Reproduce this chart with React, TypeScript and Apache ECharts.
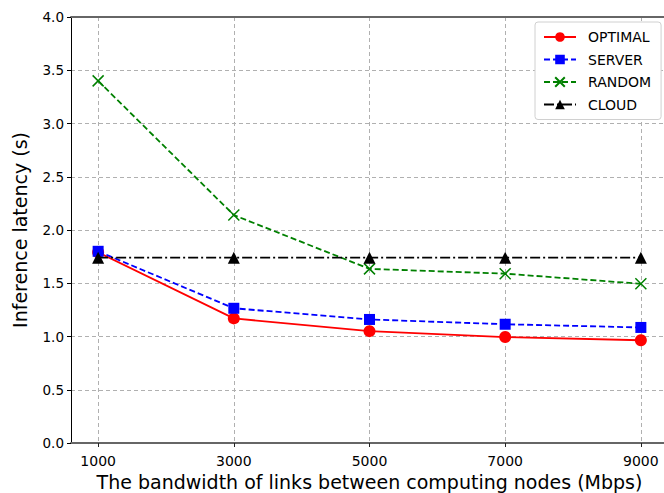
import React, { useEffect, useRef } from "react";
import * as echarts from "echarts";

const bandwidths = [1000, 3000, 5000, 7000, 9000];
const optimal = [1.79, 1.17, 1.05, 0.995, 0.965];
const server = [1.8, 1.265, 1.16, 1.115, 1.085];
const random = [3.4, 2.14, 1.635, 1.59, 1.495];
const cloud = [1.74, 1.74, 1.74, 1.74, 1.74];
const xTicks = [1000, 3000, 5000, 7000, 9000];

const FONT = "DejaVu Sans";

function pts(vals: number[]) {
  return bandwidths.map((b, i) => [b, vals[i]]);
}

export default function App() {
  const ref = useRef<HTMLDivElement>(null);
  useEffect(() => {
    if (!ref.current) return;
    const chart = echarts.init(ref.current, undefined, { renderer: "svg" });
    const gridLine = { show: true, lineStyle: { color: "#b0b0b0", type: [4, 3] as any, width: 1 } };
    chart.setOption({
      animation: false,
      backgroundColor: "#ffffff",
      grid: { left: 71, top: 17, width: 597, bottom: 50, containLabel: false, outerBoundsMode: "none" },
      legend: {
        orient: "vertical",
        left: 535,
        top: 22,
        itemWidth: 32,
        itemHeight: 12,
        itemGap: 8.5,
        padding: [8, 10, 8, 8],
        backgroundColor: "#ffffff",
        borderColor: "#d0d0d0",
        borderWidth: 1,
        borderRadius: 3,
        textStyle: { fontFamily: FONT, fontSize: 14, color: "#000", padding: [0, 0, 0, 7] },
        data: ["OPTIMAL", "SERVER", "RANDOM", "CLOUD"],
      },
      xAxis: [
        {
          type: "value",
          min: 600,
          max: 9400,
          position: "bottom",
          name: "The bandwidth of links between computing nodes (Mbps)",
          nameLocation: "middle",
          nameGap: 28,
          nameTextStyle: { fontFamily: FONT, fontSize: 19, color: "#000" },
          axisLine: { show: true, lineStyle: { color: "#666", width: 2 } },
          axisTick: { show: true, length: 4, lineStyle: { color: "#222" }, customValues: xTicks },
          axisLabel: {
            fontFamily: FONT,
            fontSize: 14,
            color: "#000",
            margin: 11,
            customValues: xTicks,
            formatter: (v: number) => String(v),
          },
          splitLine: gridLine,
        },
        {
          type: "value",
          min: 600,
          max: 9400,
          position: "top",
          axisLine: { show: true, lineStyle: { color: "#666", width: 2 } },
          axisTick: { show: false },
          axisLabel: { show: false },
          splitLine: { show: false },
        },
      ],
      yAxis: {
        type: "value",
        min: 0,
        max: 4,
        interval: 0.5,
        name: "Inference latency (s)",
        nameLocation: "middle",
        nameGap: 42,
        nameTextStyle: { fontFamily: FONT, fontSize: 19, color: "#000" },
        axisLine: { show: true, lineStyle: { color: "#000", width: 1 } },
        axisTick: { show: true, length: 4, lineStyle: { color: "#000" } },
        axisLabel: {
          fontFamily: FONT,
          fontSize: 13.5,
          color: "#000",
          margin: 7,
          formatter: (v: number) => v.toFixed(1),
        },
        splitLine: gridLine,
      },
      series: [
        {
          name: "OPTIMAL",
          type: "line",
          data: pts(optimal),
          symbol: "circle",
          symbolSize: 12,
          itemStyle: { color: "#ff0000" },
          lineStyle: { color: "#ff0000", width: 1.8, type: "solid" },
          z: 2,
        },
        {
          name: "SERVER",
          type: "line",
          data: pts(server),
          symbol: "rect",
          symbolSize: 11,
          itemStyle: { color: "#0000ff" },
          lineStyle: { color: "#0000ff", width: 1.8, type: [6, 3] as any },
          z: 3,
        },
        {
          name: "RANDOM",
          type: "line",
          data: pts(random),
          symbol: "path://M0,0L10,10M10,0L0,10",
          symbolSize: 11,
          itemStyle: { color: "#008000", borderColor: "#008000", borderWidth: 1.5 },
          lineStyle: { color: "#008000", width: 1.8, type: [6, 3] as any },
          z: 4,
        },
        {
          name: "CLOUD",
          type: "line",
          data: pts(cloud),
          symbol: "triangle",
          symbolSize: 12,
          itemStyle: { color: "#000000" },
          lineStyle: { color: "#000000", width: 1.8, type: [10, 3, 2, 3] as any },
          z: 5,
        },
      ],
    });
    return () => chart.dispose();
  }, []);
  return <div ref={ref} style={{ width: 664, height: 493, position: "absolute", left: 0, top: 0 }} />;
}
